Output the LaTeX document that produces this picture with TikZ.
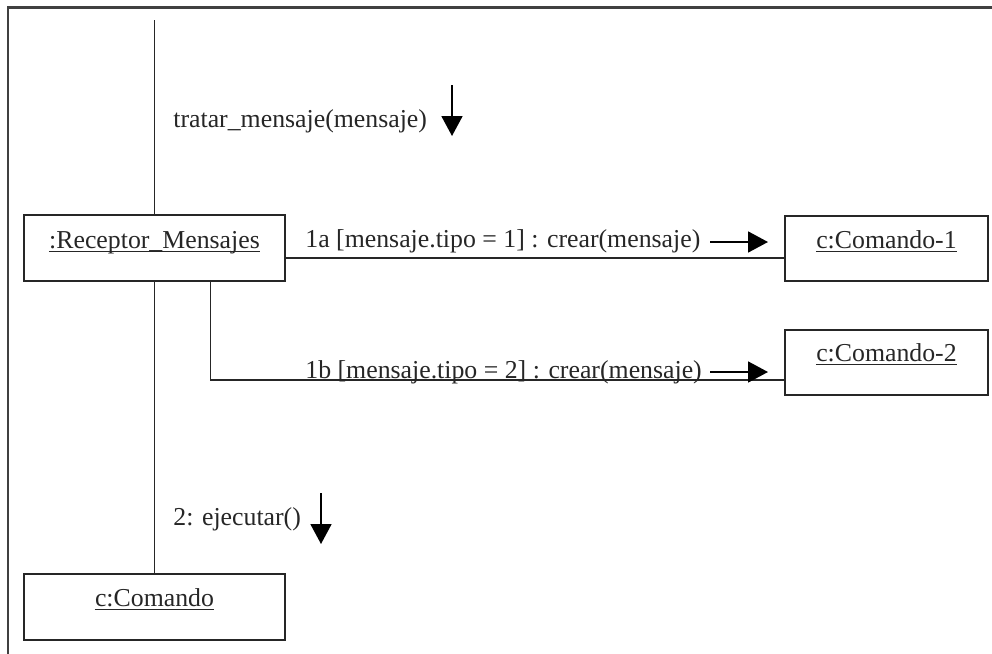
\documentclass[tikz,border=0pt]{standalone}
\usepackage{fontspec}
\setmainfont{Liberation Serif}
\usetikzlibrary{arrows.meta}
\begin{document}
\begin{tikzpicture}[x=0.5pt,y=-0.5pt,
  every node/.style={font=\fontsize{12.9}{15}\selectfont, inner sep=0pt, text=black!85},
  obj/.style={draw=black!85, line width=0.9pt, rectangle, inner sep=0pt},
  link/.style={line width=0.9pt, black!85},
  msg/.style={line width=0.9pt, black, -{Triangle[length=10pt,width=10.5pt]}},
  uline/.style={line width=0.6pt, black!85},
  frame/.style={line width=1.1pt, black!75}]
\useasboundingbox (0,0) rectangle (992,654);
% outer frame (top and left edges)
\draw[frame] (8,654) -- (8,7.5) -- (992,7.5);

% objects
\node[obj, minimum width=130.5pt, minimum height=33pt] (rec) at (154.5,248) {};
\node[obj, minimum width=101.5pt, minimum height=32.5pt] (c1) at (886.5,248.5) {};
\node[obj, minimum width=101.5pt, minimum height=32.5pt] (c2) at (886.5,362.5) {};
\node[obj, minimum width=130.5pt, minimum height=33pt] (cmd) at (154.5,607) {};

% object names, underlined at a fixed depth below the baseline
\node[anchor=base] (recname) at (154.5,248) {:Receptor\_Mensajes};
\node[anchor=base] (c1name) at (886.5,248) {c:Comando-1};
\node[anchor=base] (c2name) at (886.5,361) {c:Comando-2};
\node[anchor=base] (cmdname) at (154.5,606) {c:Comando};
\foreach \n in {recname,c1name,c2name,cmdname}
  \draw[uline] ([yshift=-1.8pt]\n.base west) -- ([yshift=-1.8pt]\n.base east);

% links
\coordinate (ltop) at (154.5,20);
\draw[link] (ltop) -- (rec.north);
\draw[link] (rec.south) -- (cmd.north);
\coordinate (a1) at ([yshift=-5pt]rec.east);
\draw[link] (a1) -- (a1 -| c1.west);
\coordinate (b1) at ([xshift=28pt]rec.south);
\coordinate (b2) at ([yshift=-8.75pt]c2.west);
\draw[link] (b1) |- (b2);

% messages
\node[anchor=base west] (m0) at (173,127) {tratar\_mensaje(mensaje)};
\coordinate (m0s) at (452,85); \coordinate (m0e) at (452,136);
\draw[msg] (m0s) -- (m0e);

\node[anchor=base west] (m1a) at (305,247) {1a [mensaje.tipo = 1] : crear(mensaje)};
\coordinate (m1as) at (710,242); \coordinate (m1ae) at (768,242);
\draw[msg] (m1as) -- (m1ae);

\node[anchor=base west] (m1b) at (305,378) {1b [mensaje.tipo = 2] : crear(mensaje)};
\coordinate (m1bs) at (710,372); \coordinate (m1be) at (768,372);
\draw[msg] (m1bs) -- (m1be);

\node[anchor=base west] (m2) at (173,525) {2: ejecutar()};
\coordinate (m2s) at (321,493); \coordinate (m2e) at (321,544);
\draw[msg] (m2s) -- (m2e);
\end{tikzpicture}
\end{document}
